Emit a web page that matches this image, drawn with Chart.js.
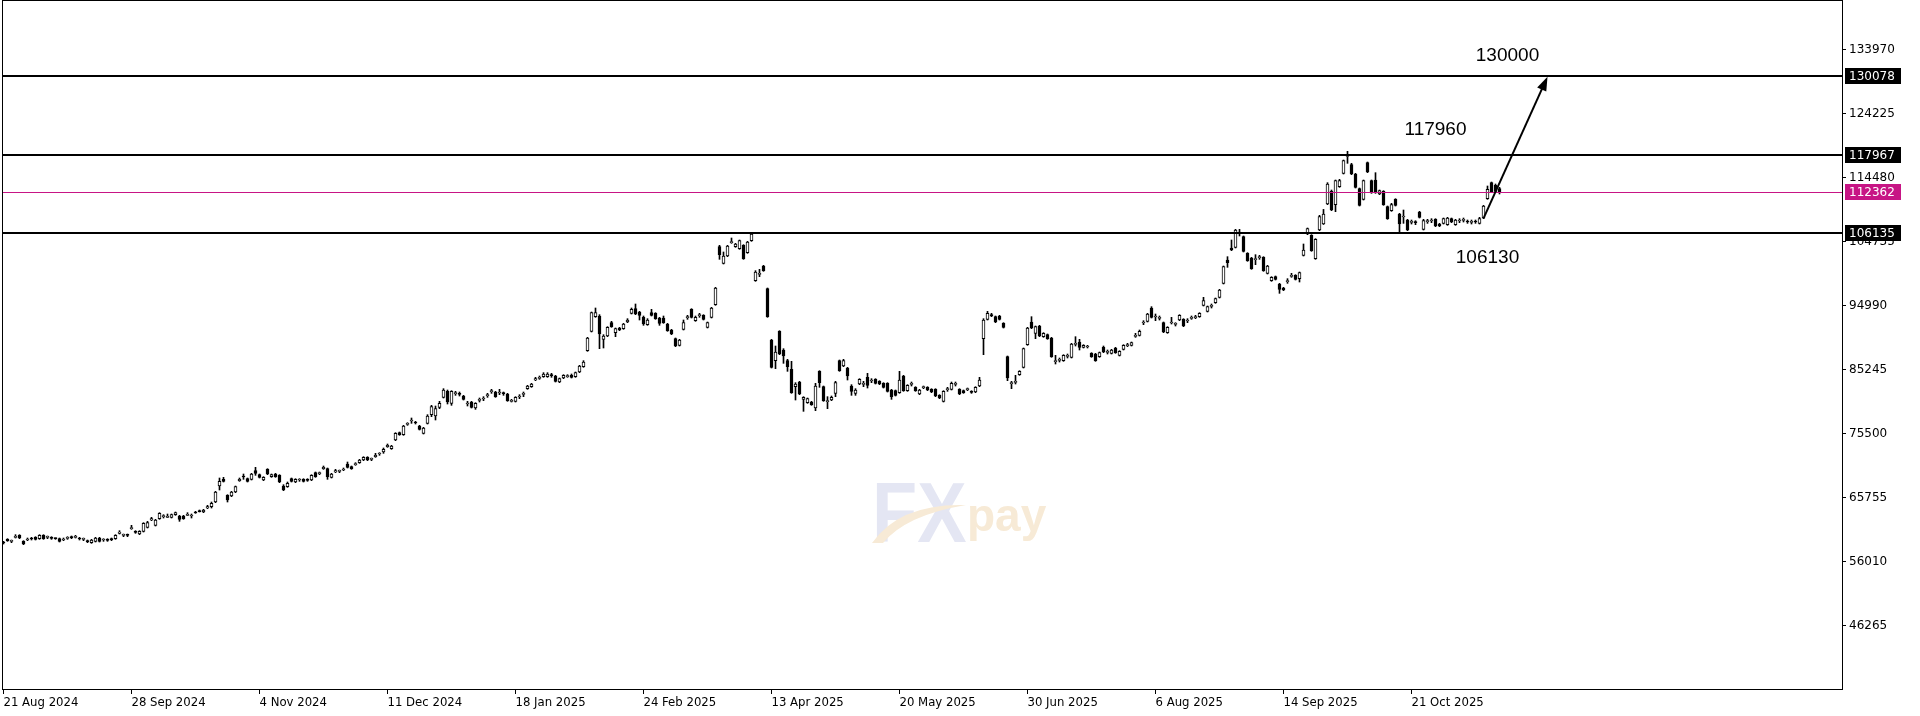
<!DOCTYPE html>
<html>
<head>
<meta charset="utf-8">
<title>BTCUSD Daily</title>
<script src="https://cdn.jsdelivr.net/npm/chart.js@4.4.1/dist/chart.umd.min.js"></script>
<style>
  html, body { margin: 0; padding: 0; background: #fff; overflow: hidden; }
  canvas { display: block; }
</style>
</head>
<body>
<canvas id="chart" width="1920" height="716"></canvas>
<script>
// daily candles
const opens = [
  59052,59458,59153,59763,60067,59153,59357,59661,59763,59560,
  60067,59763,59763,59560,59560,59357,59611,59864,59763,59661,
  59458,59255,58950,59153,59661,59357,59458,59560,59560,60372,
  60067,60118,61083,60676,60270,60676,61286,62402,61590,62605,
  62910,62808,62808,63214,63011,63011,63113,63011,63620,63823,
  63620,64229,64432,65143,67579,68595,66158,66057,66666,68392,
  69001,68696,68595,69914,69305,68493,70117,69001,69407,69204,
  67579,67478,68696,68189,68493,68595,68595,68493,69610,69457,
  70219,70219,68899,69711,69813,70016,70930,70524,70828,71133,
  71539,71945,71642,72046,72453,72757,73569,73265,74584,75701,
  75396,76970,77478,77325,76716,75599,77122,78441,78238,79558,
  81080,81994,80167,81639,81588,81283,80065,80370,79456,80624,
  80826,81334,81944,81893,81740,81690,81588,80471,80471,81131,
  81537,82400,82705,83720,83974,84228,84228,84431,84330,83416,
  84025,84228,84431,84228,84938,85750,88187,91131,93364,93466,
  89913,90420,92451,90928,91639,91537,92552,93872,94583,94075,
  93263,92146,93973,93872,93161,93161,92248,91334,90014,88999,
  91436,93212,94481,92755,93517,93567,91740,93263,95192,104024,
  101486,102602,104633,104024,103719,104227,103110,104937,98846,99810,
  101080,97628,89811,86664,91131,88288,86664,85344,82704,83415,
  80776,80268,80370,79456,85039,82704,80420,80674,81689,86664,
  85852,85547,82806,81689,83111,83060,84126,83567,83821,83517,
  83212,83212,82197,82095,81791,84328,82095,83060,82603,81588,
  82552,82603,82298,82298,81385,80471,82248,82298,83060,82298,
  82095,82248,81994,81892,82806,90014,92958,93669,93364,93466,
  92349,87273,83161,83364,84532,85648,89100,92552,90826,91943,
  90318,90623,90115,86512,86715,86664,87324,87172,89151,89506,
  88694,88745,87780,87679,87273,88694,87933,87780,88593,87476,
  88390,88948,88999,90369,90521,92399,92653,94684,93313,93110,
  92450,90928,92399,92196,92856,92958,92704,93110,93212,93364,
  95090,94176,94938,95496,96308,98440,101993,103821,103922,106105,
  105547,103008,102297,102044,102348,102399,99963,98846,99455,98339,
  97730,98694,99506,99658,99151,102703,105953,105750,102196,106559,
  107500,110518,112447,110417,113158,115189,117777,116508,115087,112854,
  111229,116812,114072,114174,112041,112447,110113,109503,111229,108996,
  108538,108082,107727,107727,109300,106661,107828,107930,108183,107473,
  107574,107371,108285,107371,107930,108031,107828,107727,107828,107574,
  108386,111331,113767,113361,112854
];
const highs = [
  59153,59560,59357,60169,60169,59255,59661,59763,59864,60169,
  60169,59966,59864,59661,59661,59661,59864,59966,60067,59763,
  59661,59357,59458,59763,59763,59560,59560,59661,60169,60778,
  60270,60270,61590,60778,60778,61996,62199,62808,62504,63519,
  63214,63316,63316,63620,63113,63113,63519,63316,63722,63925,
  64026,64635,65143,66767,68798,68899,66260,66767,67579,68798,
  69407,68798,69508,70422,69407,69001,70219,69407,69508,69305,
  67782,68189,68798,68696,68696,68696,68696,69305,69711,69711,
  70625,70320,69508,70117,70016,70320,71234,70625,71133,71642,
  72046,72046,71843,72554,72655,73366,73975,73773,75701,75802,
  76817,77224,77934,77427,76817,76513,78441,79863,79761,80471,
  82400,82197,82096,81994,81893,81385,80471,80471,80268,80979,
  81182,81690,82299,81994,82299,81893,81690,80776,81182,81487,
  81893,82908,83213,84127,84330,84837,84837,84735,84431,84025,
  84533,84533,84634,84938,85953,86665,90217,94075,94684,93669,
  90623,91842,92654,91639,91740,92349,93060,94684,95294,94177,
  93466,93060,94481,93973,93263,93466,92349,91436,90116,89913,
  92857,93567,94583,93466,93872,93669,92552,94786,97831,104227,
  103212,104227,105343,104531,105039,104328,104835,106156,100369,100572,
  101181,97730,89913,88897,91232,88491,86868,86562,83314,83517,
  81182,80979,80471,83212,85141,82806,81182,81284,83517,86766,
  86868,85648,83010,82400,83923,83517,84735,83923,83923,83618,
  83314,83314,82298,82197,85039,84431,83010,83415,82704,82298,
  82806,82704,82400,82400,81486,82095,82603,83415,83415,82400,
  82197,82501,82095,82704,84126,93060,94176,93872,93466,93567,
  92450,87374,83517,84431,85141,88592,91740,93364,91943,92044,
  90928,90725,90217,87476,87070,87577,87679,89303,90318,89912,
  89100,88999,87882,87780,87983,88897,88288,88390,88694,88186,
  89100,89303,89506,90826,91334,92755,93872,94887,93770,93466,
  92552,91842,93263,92450,93669,93060,93060,93466,93567,93973,
  96308,94988,95293,96206,97527,101080,102500,105039,106663,106663,
  105648,103110,102399,102805,102703,102500,101181,99455,99557,98440,
  97831,99151,99963,99760,100166,104430,106866,105851,105242,108793,
  109700,113767,112651,114174,114275,117218,118538,116711,115189,112955,
  114174,116914,114174,115290,112651,112549,110214,110620,111331,109097,
  109605,108183,108082,107981,109402,108183,108183,108285,108285,107574,
  108386,108488,108386,108183,108285,108386,108082,108082,108082,108488,
  110315,113260,113868,113564,113057
];
const lows = [
  58747,59153,58950,59661,59560,58646,59255,59357,59357,59458,
  59458,59560,59458,59458,59052,59255,59458,59560,59661,59357,
  59255,58950,58849,59052,59052,59153,59153,59255,59458,60270,
  59864,59864,60981,60372,60169,60575,61184,62301,61489,62504,
  62707,62758,62707,63113,62199,62504,63062,62707,63417,63620,
  63519,64128,64229,65041,66970,68189,65143,65955,66564,68290,
  68595,68189,68493,69204,68798,68392,69305,68899,68899,68087,
  66868,67376,68189,68087,68290,68189,68290,68392,68899,69305,
  70117,68595,68798,69610,69610,69914,70320,70117,70726,71031,
  71438,71438,71438,71945,72249,72554,73468,73163,74483,75295,
  75295,76817,77122,77020,76107,75497,77020,78137,77629,79355,
  80979,80065,79863,81385,81283,80674,79761,79456,79253,80370,
  80573,81080,81690,81080,81487,81385,80471,80370,80370,80877,
  81182,82299,82603,83619,83822,84127,84127,84127,83416,83314,
  83923,84127,84025,84127,84837,85649,88086,91030,93263,88492,
  88594,90319,91740,90319,91233,91436,92451,93770,93669,92857,
  92045,92045,93466,92958,92045,92349,91131,90623,88796,88898,
  91334,92958,93161,92654,93263,92857,91639,93161,95091,102095,
  101384,102501,104531,103922,103618,102095,103009,104835,98745,99455,
  100267,93263,85547,85445,87577,86258,85039,81689,80674,81486,
  78949,80167,79862,79050,82603,80471,79355,80573,81182,85039,
  85750,83720,81385,81385,83010,82704,82501,83314,83111,83010,
  82501,81892,80776,81284,81689,81994,81994,82806,81994,81486,
  82400,82095,81791,81182,80877,80370,81994,82197,82806,81486,
  81689,82095,81689,81791,82704,87577,92856,93364,92450,92856,
  91638,83618,82400,83111,84431,85547,88999,91537,90014,90318,
  90217,89912,87172,86156,86461,86562,87070,87070,88897,88288,
  88593,88593,87172,86562,87172,87882,87679,87679,87780,87374,
  88288,88796,88897,90217,90420,92146,92552,93161,92755,92856,
  90928,90826,92247,91943,92755,91842,92450,92958,93060,93263,
  94988,94075,94684,95394,96206,98339,100877,103414,103821,105648,
  103212,101790,100572,101283,102095,100267,99862,98745,98948,96917,
  97324,98440,99354,98948,98643,102602,105851,103313,102095,106458,
  107400,110417,109503,109351,113057,115087,116711,114986,112956,110214,
  111128,115290,112143,112143,111940,110315,108183,109402,110214,106153,
  107574,106458,107473,107371,108386,106559,107574,107676,107067,107067,
  107473,107270,107676,107270,107676,107778,107574,107473,107574,107473,
  108285,111229,112245,112346,112041
];
const closes = [
  58900,59255,59204,59864,59661,58747,59458,59509,59458,60067,
  59560,59814,59611,59560,59153,59458,59661,59712,59864,59509,
  59509,59103,59357,59661,59153,59407,59306,59407,60067,60575,
  60118,60067,61235,60524,60676,61895,61996,62605,62402,63417,
  62961,62910,63214,63519,62504,62605,63214,63062,63468,63671,
  63925,64432,64940,66666,68290,68290,65447,66666,67478,68595,
  68950,68290,69407,69508,68899,68899,69407,69305,69001,68189,
  66970,67985,68290,68595,68544,68290,68442,69204,69001,69508,
  70422,69001,69407,69914,69864,70117,70422,70219,70930,71539,
  71945,71539,71692,72249,72503,73163,73773,73671,75599,75396,
  76716,77020,77528,77173,76208,76411,78238,79660,79355,80167,
  82197,80370,81994,81690,81537,80776,80116,79558,80167,80674,
  80877,81385,81994,81182,81791,81639,80573,80573,81080,81182,
  81588,82806,83111,83923,84025,84634,84634,84381,83517,83923,
  84431,84330,84127,84837,85852,86462,90116,93973,93973,90725,
  90420,91740,91842,91537,91334,92248,92857,94481,93770,93567,
  92248,92857,93567,93060,92349,92451,91233,90725,88898,89812,
  92451,93263,93263,93263,93567,92958,92451,94684,97730,102805,
  102602,104125,104734,104430,104937,102196,104734,105953,100166,99861,
  100369,93364,85648,87983,87679,87374,85750,81791,83111,81588,
  81081,80877,79964,82806,83314,80573,80471,81081,83314,85141,
  86664,84328,81994,82197,83821,83111,82908,83618,83212,83111,
  82603,81994,81182,81385,83720,82095,82908,83111,82095,82197,
  82603,82197,81892,81284,80979,81994,82298,83212,83111,81588,
  81791,82298,81841,82603,83720,92856,93872,93466,92552,92958,
  91740,84024,83212,83415,85039,88491,91638,91638,91842,90420,
  90826,90014,87273,86562,86766,87476,87374,89202,89202,88694,
  88999,88796,87273,86664,87882,87983,87983,88288,87882,88085,
  88999,88999,89405,90420,91131,92450,93770,93263,93364,93161,
  91029,91740,92450,92247,93567,91943,92755,93161,93263,93872,
  95800,94887,94988,96105,97425,100978,101587,103516,106562,106156,
  103313,101892,100674,102095,102399,100369,101080,99354,99050,97527,
  97425,98745,99557,99050,100064,103516,106764,103414,105140,108589,
  109000,113564,109605,114072,114072,117117,117828,115087,113057,110315,
  114072,115392,112245,112245,112549,110417,108285,110417,110315,107473,
  108589,106559,107778,107676,108488,107981,107879,107981,107168,107168,
  108285,108386,107778,108082,107981,108082,107778,107778,107778,108285,
  110214,112752,112346,112447,112362
];

// bottom axis: bar index of each date label
const tickIdx = [0, 32, 64, 96, 128, 160, 192, 224, 256, 288, 320, 352];
const tickLabels = ['21 Aug 2024', '28 Sep 2024', '4 Nov 2024', '11 Dec 2024', '18 Jan 2025', '24 Feb 2025',
                    '13 Apr 2025', '20 May 2025', '30 Jun 2025', '6 Aug 2025', '14 Sep 2025', '21 Oct 2025'];
// right axis prices
const yTicks = [46265, 56010, 65755, 75500, 85245, 94990, 104735, 114480, 124225, 133970];

// horizontal levels + current bid
const levels = [130078, 117967, 106135];
const lastPrice = 112362;

// target notes and arrow
const notes = ['130000', '117960', '106130'];

// ---- layout (bar index / price where things sit) ----
const noteAt = [[376, 133056], [358, 121788], [371, 102298]];
const arrowFrom = [370, 108330];
const arrowTo = [386, 129900];
const xMin = -0.375, xMax = 459.625;
const yMin = 36670, yMax = 141431;

const wickData = closes.map((c, i) => ({ x: i, y: [lows[i], highs[i]] }));
const bodyData = closes.map((c, i) => ({ x: i, y: [opens[i], c] }));

function drawLogo(ctx) {
  ctx.save();
  ctx.fillStyle = '#e4e6f3';
  ctx.font = 'bold 74px "Liberation Sans", Arial, sans-serif';
  ctx.textBaseline = 'alphabetic';
  ctx.translate(872, 542);
  ctx.scale(1, 1.15);
  ctx.fillText('FX', 0, 0);
  ctx.restore();

  ctx.save();
  ctx.fillStyle = '#f7ead6';
  ctx.beginPath();
  ctx.moveTo(872, 543);
  ctx.quadraticCurveTo(900, 503, 966, 505);
  ctx.quadraticCurveTo(906, 515, 883, 543);
  ctx.closePath();
  ctx.fill();
  ctx.font = 'bold 46px "Liberation Sans", Arial, sans-serif';
  ctx.fillText('pay', 967, 531);
  ctx.restore();
}

function priceTag(ctx, a, py, text, bg) {
  ctx.fillStyle = bg;
  ctx.fillRect(a.right + 3, py - 8, 56, 16);
  ctx.fillStyle = '#fff';
  ctx.font = '12px "DejaVu Sans"';
  ctx.textAlign = 'left';
  ctx.textBaseline = 'middle';
  ctx.fillText(text, a.right + 7, py + 0.5);
}

const overlay = {
  id: 'overlay',
  beforeDatasetsDraw(chart) {
    drawLogo(chart.ctx);
  },
  afterDatasetsDraw(chart) {
    const { ctx, chartArea: a, scales: { x, y } } = chart;
    ctx.save();
    ctx.strokeStyle = '#000';
    ctx.fillStyle = '#000';
    ctx.lineWidth = 2;
    levels.forEach(v => {
      const py = Math.round(y.getPixelForValue(v));
      ctx.beginPath();
      ctx.moveTo(a.left, py);
      ctx.lineTo(a.right, py);
      ctx.stroke();
    });

    // bid line
    const pb = Math.round(y.getPixelForValue(lastPrice)) + 0.5;
    ctx.strokeStyle = '#c71585';
    ctx.lineWidth = 1;
    ctx.beginPath();
    ctx.moveTo(a.left, pb);
    ctx.lineTo(a.right, pb);
    ctx.stroke();

    // arrow to the target
    const x0 = x.getPixelForValue(arrowFrom[0]), y0 = y.getPixelForValue(arrowFrom[1]);
    const x1 = x.getPixelForValue(arrowTo[0]), y1 = y.getPixelForValue(arrowTo[1]);
    const ang = Math.atan2(y1 - y0, x1 - x0);
    const len = 14, half = 5;
    const cx = Math.cos(ang), sy = Math.sin(ang);
    ctx.strokeStyle = '#000';
    ctx.lineWidth = 2;
    ctx.beginPath();
    ctx.moveTo(x0, y0);
    ctx.lineTo(x1 - cx * len * 0.8, y1 - sy * len * 0.8);
    ctx.stroke();
    ctx.beginPath();
    ctx.moveTo(x1, y1);
    ctx.lineTo(x1 - len * cx + half * sy, y1 - len * sy - half * cx);
    ctx.lineTo(x1 - len * cx - half * sy, y1 - len * sy + half * cx);
    ctx.closePath();
    ctx.fill();

    ctx.font = '19px "Liberation Sans", Arial, sans-serif';
    ctx.textAlign = 'center';
    ctx.textBaseline = 'middle';
    notes.forEach((t, k) => {
      ctx.fillText(t, x.getPixelForValue(noteAt[k][0]), y.getPixelForValue(noteAt[k][1]));
    });
    ctx.restore();
  },
  afterDraw(chart) {
    const { ctx, chartArea: a, scales: { y } } = chart;
    ctx.save();
    // frame
    ctx.fillStyle = '#000';
    ctx.fillRect(a.left, 0, 1, a.bottom + 1);
    ctx.fillRect(a.right, 0, 1, a.bottom + 1);
    ctx.fillRect(a.left, 0, a.right - a.left + 1, 1);
    ctx.fillRect(a.left, a.bottom, a.right - a.left + 1, 1);
    // price tags on the axis
    levels.forEach(v => priceTag(ctx, a, Math.round(y.getPixelForValue(v)), String(v), '#000'));
    priceTag(ctx, a, Math.round(y.getPixelForValue(lastPrice)), String(lastPrice), '#c71585');
    ctx.restore();
  }
};

Chart.defaults.font.family = '"DejaVu Sans"';
Chart.defaults.color = '#000';

const chart = new Chart(document.getElementById('chart'), {
  type: 'bar',
  data: {
    datasets: [
      {
        label: 'body',
        data: bodyData,
        grouped: false,
        barThickness: 3,
        maxBarThickness: 3,
        minBarLength: 1,
        borderWidth: 1,
        borderSkipped: false,
        borderColor: '#000',
        backgroundColor: ctx => {
          const i = ctx.dataIndex;
          if (i === undefined) return '#000';
          return closes[i] > opens[i] ? '#fff' : '#000';
        }
      },
      {
        label: 'wick',
        data: wickData,
        grouped: false,
        barThickness: 1,
        maxBarThickness: 1,
        borderWidth: 0,
        backgroundColor: '#000'
      }
    ]
  },
  options: {
    responsive: false,
    animation: false,
    devicePixelRatio: 1,
    events: [],
    layout: { padding: { left: 2, top: 1, right: 0, bottom: 0 } },
    plugins: { legend: { display: false }, tooltip: { enabled: false } },
    scales: {
      x: {
        type: 'linear',
        min: xMin,
        max: xMax,
        offset: false,
        bounds: 'data',
        grid: { display: true, offset: false, drawOnChartArea: false, drawTicks: true, tickLength: 5, color: '#000' },
        border: { display: false },
        afterBuildTicks: s => { s.ticks = tickIdx.map(v => ({ value: v })); },
        afterFit: s => { s.height = 27; s.paddingLeft = 0; s.paddingRight = 0; },
        ticks: {
          autoSkip: false,
          maxRotation: 0,
          align: 'start',
          padding: 1,
          color: '#000',
          font: { family: '"DejaVu Sans Condensed", "DejaVu Sans"', size: 13 },
          callback: (v, i) => tickLabels[i]
        }
      },
      y: {
        position: 'right',
        min: yMin,
        max: yMax,
        bounds: 'data',
        grid: { display: true, drawOnChartArea: false, drawTicks: true, tickLength: 4, color: '#000' },
        border: { display: false },
        afterBuildTicks: s => { s.ticks = yTicks.map(v => ({ value: v })); },
        afterFit: s => { s.width = 78; s.paddingTop = 0; s.paddingBottom = 0; },
        ticks: {
          autoSkip: false,
          padding: 3,
          color: '#000',
          font: { family: '"DejaVu Sans"', size: 12 },
          callback: v => String(v)
        }
      }
    }
  },
  plugins: [overlay]
});
</script>
</body>
</html>
